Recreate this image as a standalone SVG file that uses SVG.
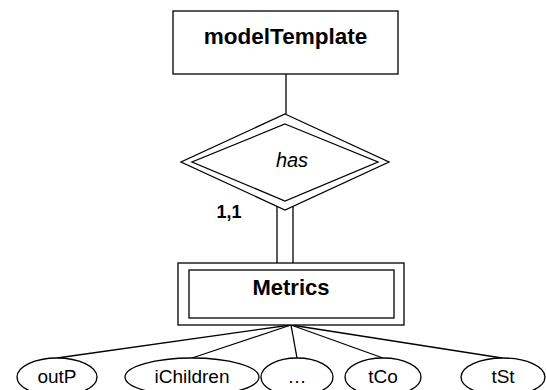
<svg xmlns="http://www.w3.org/2000/svg" width="546" height="390" viewBox="0 0 546 390">
<style>
.s{fill:#fff;stroke:#000;stroke-width:1.3}
.l{stroke:#000;stroke-width:1.3;fill:none}
.t{font-family:"Liberation Sans",Arial,sans-serif;fill:#000;text-anchor:middle}
.b{font-weight:bold}
.a{font-size:19px}
</style>
<rect width="546" height="390" fill="#fff"/>
<g id="connectors">
<line class="l" x1="286" y1="74" x2="286" y2="114"/>
<line class="l" x1="277" y1="200" x2="277" y2="263"/>
<line class="l" x1="293" y1="200" x2="293" y2="263"/>
<line class="l" x1="291" y1="325" x2="57" y2="358"/>
<line class="l" x1="291" y1="325" x2="192" y2="358"/>
<line class="l" x1="291" y1="325" x2="297" y2="358"/>
<line class="l" x1="291" y1="325" x2="383" y2="358"/>
<line class="l" x1="291" y1="325" x2="502" y2="358"/>
</g>
<g id="modelTemplate">
<rect class="s" x="173" y="11" width="225" height="63"/>
<text class="t b" x="285.5" y="44" font-size="22.5">modelTemplate</text>
</g>
<g id="has">
<polygon class="s" points="285,114 389,162 285,210 181,162"/>
<polygon class="s" points="285,124 378,162 285,201 192,162"/>
<text class="t" x="292" y="167" font-size="20" font-style="italic">has</text>
</g>
<text class="t b" x="229" y="218" font-size="18">1,1</text>
<g id="Metrics">
<rect class="s" x="178" y="263" width="226" height="62"/>
<rect class="s" x="189" y="270" width="205" height="48"/>
<text class="t b" x="291" y="295" font-size="22">Metrics</text>
</g>
<g id="outP">
<ellipse class="s" cx="57" cy="377" rx="40" ry="19"/>
<text class="t a" x="57" y="383">outP</text>
</g>
<g id="iChildren">
<ellipse class="s" cx="192" cy="377" rx="67" ry="19"/>
<text class="t a" x="192" y="383">iChildren</text>
</g>
<g id="dots">
<ellipse class="s" cx="297" cy="377" rx="36" ry="19"/>
<text class="t a" x="297" y="383">…</text>
</g>
<g id="tCo">
<ellipse class="s" cx="383" cy="377" rx="38" ry="19"/>
<text class="t a" x="383" y="383">tCo</text>
</g>
<g id="tSt">
<ellipse class="s" cx="503" cy="377" rx="42" ry="19"/>
<text class="t a" x="503" y="383">tSt</text>
</g>
</svg>
